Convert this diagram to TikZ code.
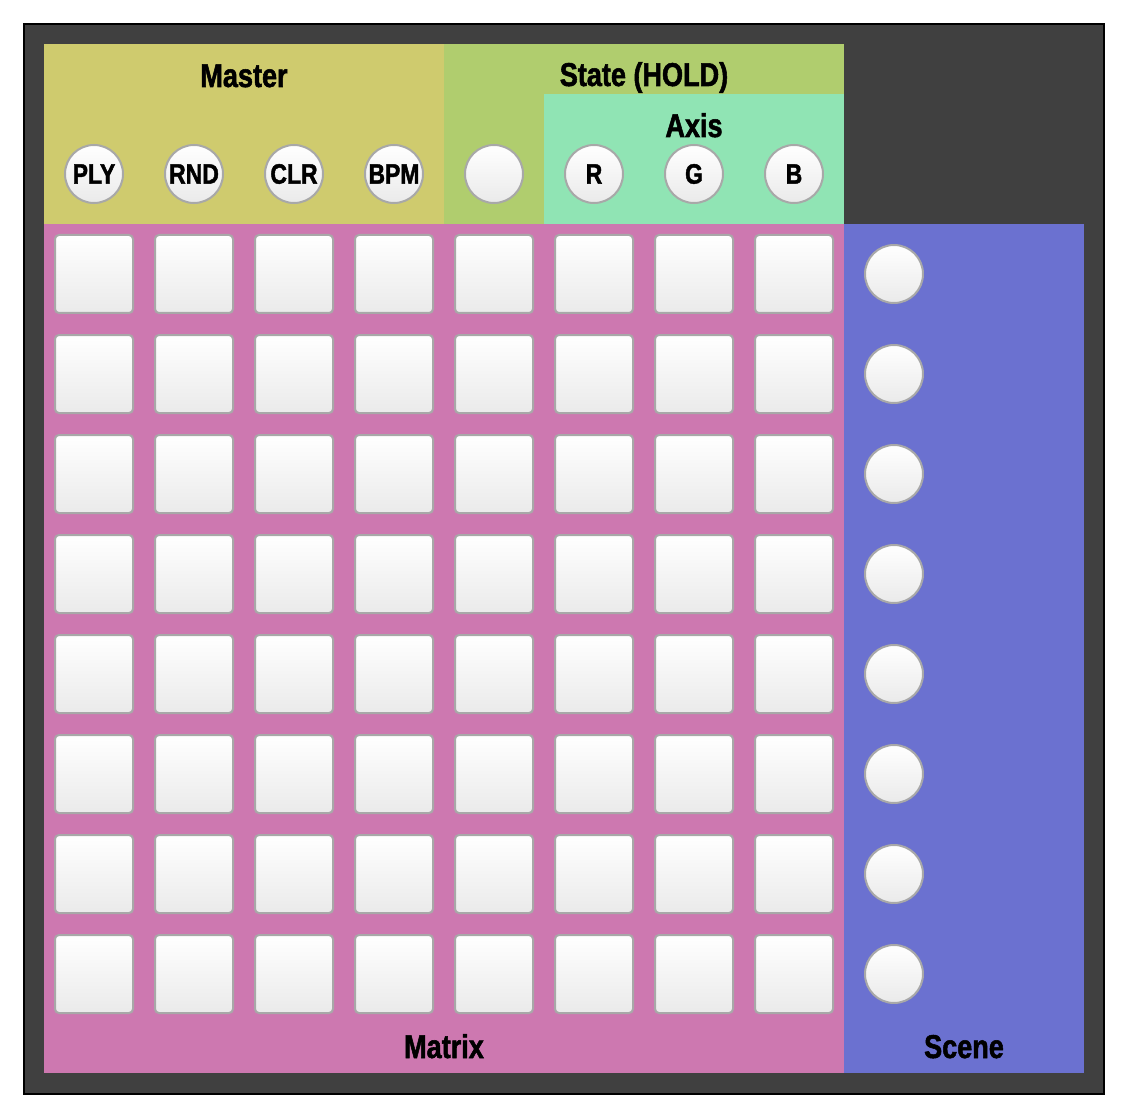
\documentclass[tikz,border=0pt]{standalone}
\usepackage{fontspec}
\newfontfamily\imp[FakeStretch=0.82,BoldFeatures={FakeBold=1.6}]{Liberation Sans}
\definecolor{coldark}{RGB}{64,64,64}
\definecolor{colmaster}{RGB}{207,203,110}
\definecolor{colstate}{RGB}{176,205,110}
\definecolor{colaxis}{RGB}{144,228,180}
\definecolor{colmatrix}{RGB}{205,120,176}
\definecolor{colscene}{RGB}{107,113,208}
\definecolor{padedge}{RGB}{168,168,168}
\definecolor{padbot}{RGB}{234,234,234}
\begin{document}
\begin{tikzpicture}[x=1pt,y=-1pt,
  pad/.style={draw=padedge, line width=2pt, rounded corners=4pt, top color=white, bottom color=padbot, minimum size=78pt, inner sep=0pt},
  knob/.style={circle, draw=padedge, line width=2pt, top color=white, bottom color=padbot, minimum size=58pt, inner sep=0pt, font=\imp\bfseries\fontsize{28}{28}\selectfont},
  title/.style={anchor=base, inner sep=0pt, font=\imp\bfseries\fontsize{33}{33}\selectfont}]
\useasboundingbox (0,0) rectangle (1128,1118);
\draw[fill=coldark, draw=black, line width=2pt] (24,24) rectangle (1104,1094);
\fill[colmaster] (44,44) rectangle (444,224);
\fill[colstate] (444,44) rectangle (844,224);
\fill[colaxis] (544,94) rectangle (844,224);
\fill[colmatrix] (44,224) rectangle (844,1073);
\fill[colscene] (844,224) rectangle (1084,1073);
\node[title] (tmaster) at (244,87) {Master};
\node[title] (tstate) at (644,86) {State (HOLD)};
\node[title] (taxis) at (694,137) {Axis};
\node[title] (tmatrix) at (444,1058) {Matrix};
\node[title] (tscene) at (964,1058) {Scene};
\node[knob] (ply) at (94,174) {PLY};
\node[knob] (rnd) at (194,174) {RND};
\node[knob] (clr) at (294,174) {CLR};
\node[knob] (bpm) at (394,174) {BPM};
\node[knob] (hold) at (494,174) {};
\node[knob] (kr) at (594,174) {R};
\node[knob] (kg) at (694,174) {G};
\node[knob] (kb) at (794,174) {B};
\foreach \r in {0,...,7} {
  \foreach \c in {0,...,7} {
    \node[pad] (p\r\c) at ({94+100*\c},{274+100*\r}) {};
  }
  \node[knob] (s\r) at (894,{274+100*\r}) {};
}
\end{tikzpicture}
\end{document}
